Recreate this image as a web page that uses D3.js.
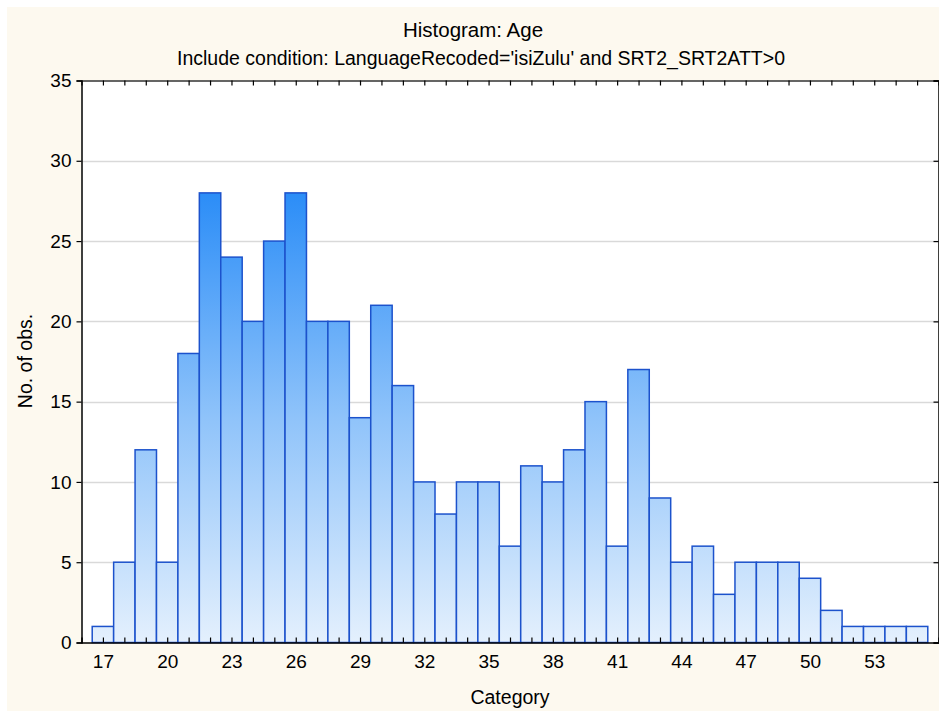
<!DOCTYPE html>
<html><head><meta charset="utf-8">
<script src="https://cdn.jsdelivr.net/npm/d3@7"></script>
<style>body{margin:0;background:#fff}svg{display:block}text{font-family:"Liberation Sans",Arial,sans-serif;fill:#000}</style>
</head><body><svg id="c" width="939" height="711"></svg>
<script>
const title = "Histogram: Age";
const subtitle = "Include condition: LanguageRecoded='isiZulu' and SRT2_SRT2ATT>0";
const xLabel = "Category";
const yLabel = "No. of obs.";
const categories = d3.range(17, 56);
const counts = [1,5,12,5,18,28,24,20,25,28,20,20,14,21,16,10,8,10,10,6,11,10,12,15,6,17,9,5,6,3,5,5,5,4,2,1,1,1,1];
const xTickLabels = [17,20,23,26,29,32,35,38,41,44,47,50,53];
const yTicks = [0,5,10,15,20,25,30,35];

const svg = d3.select("#c");
svg.append("rect").attr("x",7).attr("y",7).attr("width",932).attr("height",704).attr("fill","#fdf9ef");
const L=81.5,R=938.5,T=80.5,B=642.5;
const x = d3.scaleLinear().domain([16,56]).range([L,R]);
const y = d3.scaleLinear().domain([0,35]).range([B,T]);
svg.append("rect").attr("x",L).attr("y",T).attr("width",R-L).attr("height",B-T).attr("fill","#fff");

const defs = svg.append("defs");
const g = defs.append("linearGradient").attr("id","bg").attr("gradientUnits","userSpaceOnUse")
  .attr("x1",0).attr("x2",0).attr("y1",y(0)).attr("y2",y(28));
g.append("stop").attr("offset",0).attr("stop-color","#e4f0fd");
g.append("stop").attr("offset",0.5).attr("stop-color","#8fc3fa");
g.append("stop").attr("offset",1).attr("stop-color","#2b8df7");

// gridlines
svg.append("g").selectAll("line").data(yTicks.filter(v=>v>0&&v<35)).join("line")
  .attr("x1",L).attr("x2",R).attr("y1",d=>Math.round(y(d))+0.5).attr("y2",d=>Math.round(y(d))+0.5)
  .attr("stroke","#d9d9d9").attr("stroke-width",1.5);

// bars
svg.append("g").selectAll("rect").data(categories.map((c,i)=>({c,v:counts[i]}))).join("rect")
  .attr("x",d=>x(d.c-0.5)).attr("width",d=>x(d.c+0.5)-x(d.c-0.5))
  .attr("y",d=>y(d.v)).attr("height",d=>y(0)-y(d.v))
  .attr("fill","url(#bg)").attr("stroke","#1c52cc").attr("stroke-width",1.5);

// axes
const xb = svg.append("g").attr("transform",`translate(0,${B})`)
  .call(d3.axisBottom(x).tickValues(categories).tickSize(-5).tickFormat(d=>xTickLabels.includes(d)?d:""));
xb.selectAll("text").attr("dy","1.2em");
const xt = svg.append("g").attr("transform",`translate(0,${T})`)
  .call(d3.axisTop(x).tickValues(categories).tickSize(-5).tickFormat(""));
const yl = svg.append("g").attr("transform",`translate(${L},0)`)
  .call(d3.axisLeft(y).tickValues(yTicks).tickSize(5).tickPadding(5));
const yr = svg.append("g").attr("transform",`translate(${R},0)`)
  .call(d3.axisRight(y).tickValues(yTicks).tickSize(-5).tickFormat(""));
[xb,xt,yl,yr].forEach(a=>{
  a.select(".domain").attr("stroke","#000").attr("stroke-width",1.5);
  a.selectAll(".tick line").attr("stroke","#000").attr("stroke-width",1.2);
  a.selectAll("text").attr("font-size",19).attr("font-family","Liberation Sans, Arial, sans-serif").attr("fill","#000");
});
xt.select(".domain").attr("stroke","#333");

svg.append("text").attr("x",473).attr("y",37).attr("text-anchor","middle").attr("font-size",20.5).text(title);
svg.append("text").attr("x",481).attr("y",65).attr("text-anchor","middle").attr("font-size",19.5).text(subtitle);
svg.append("text").attr("x",510).attr("y",704).attr("text-anchor","middle").attr("font-size",19.5).text(xLabel);
svg.append("text").attr("transform","translate(32,361) rotate(-90)").attr("text-anchor","middle").attr("font-size",19.5).text(yLabel);
</script></body></html>
